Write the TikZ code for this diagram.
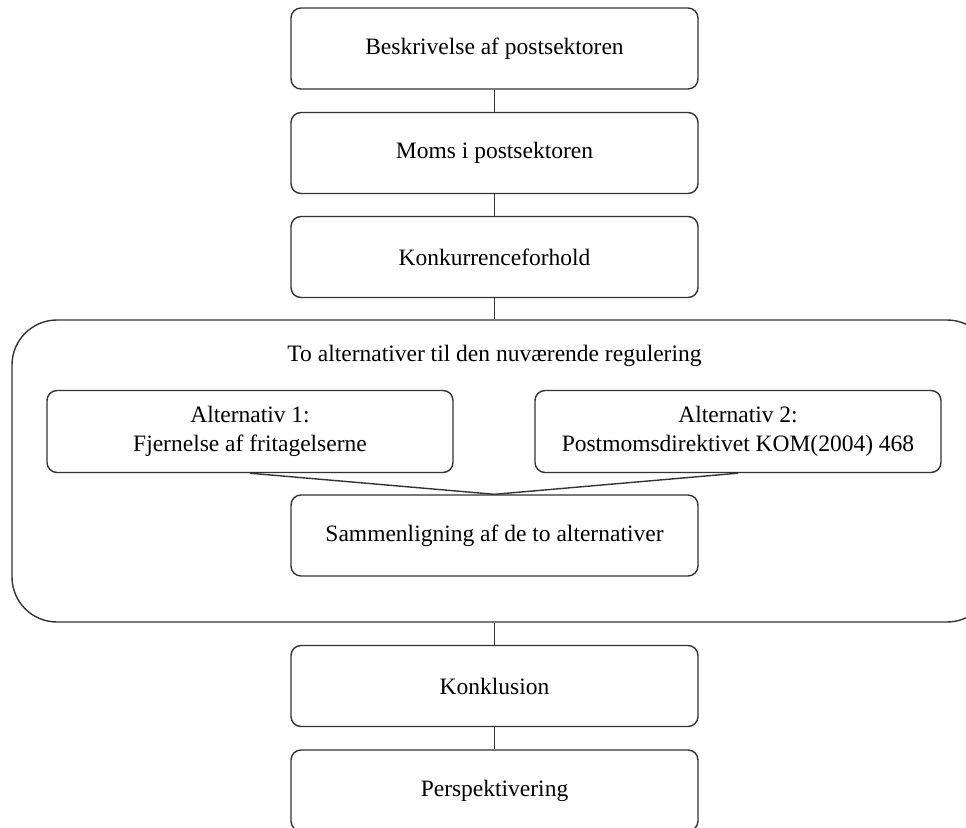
\documentclass[tikz,border=0pt]{standalone}
\usepackage{fontspec}
\setmainfont{Liberation Serif}
\begin{document}
\begin{tikzpicture}[x=1pt,y=-1pt,
  box/.style={draw=black!80, line width=1.4pt, rounded corners=10pt, minimum width=407pt, minimum height=81pt, inner sep=0pt, align=center, font=\fontsize{23.5}{29}\selectfont},
  alt/.style={box, minimum width=406pt, minimum height=82pt},
  big/.style={draw=black!80, line width=1.4pt, rounded corners=45pt, inner sep=0pt},
  conn/.style={draw=black!80, line width=1.4pt}]
\clip (0,0) rectangle (966,827);
\fill[white] (0,0) rectangle (966,827);
\node[box] (b1) at (494.5,48.5) {Beskrivelse af postsektoren};
\node[box] (b2) at (494.5,153) {Moms i postsektoren};
\node[box] (b3) at (494.5,257) {Konkurrenceforhold};
\node[big, minimum width=980pt, minimum height=302pt] (grp) at (502,471) {};
\node[font=\fontsize{23.5}{29}\selectfont] (title) at (494.5,356) {To alternativer til den nuværende regulering};
\node[alt] (a1) at (250,431.5) {Alternativ 1:\\Fjernelse af fritagelserne};
\node[alt] (a2) at (738,431.5) {Alternativ 2:\\Postmomsdirektivet KOM(2004) 468};
\node[box] (sam) at (494.5,535.5) {Sammenligning af de to alternativer};
\node[box] (konk) at (494.5,686) {Konklusion};
\node[box] (persp) at (494.5,790.5) {Perspektivering};
\draw[conn] (b1.south) -- (b2.north);
\draw[conn] (b2.south) -- (b3.north);
\draw[conn] (b3.south) -- (b3.south |- grp.north);
\draw[conn] (a1.south) -- (sam.north);
\draw[conn] (a2.south) -- (sam.north);
\draw[conn] (konk.north |- grp.south) -- (konk.north);
\draw[conn] (konk.south) -- (persp.north);
\end{tikzpicture}
\end{document}
